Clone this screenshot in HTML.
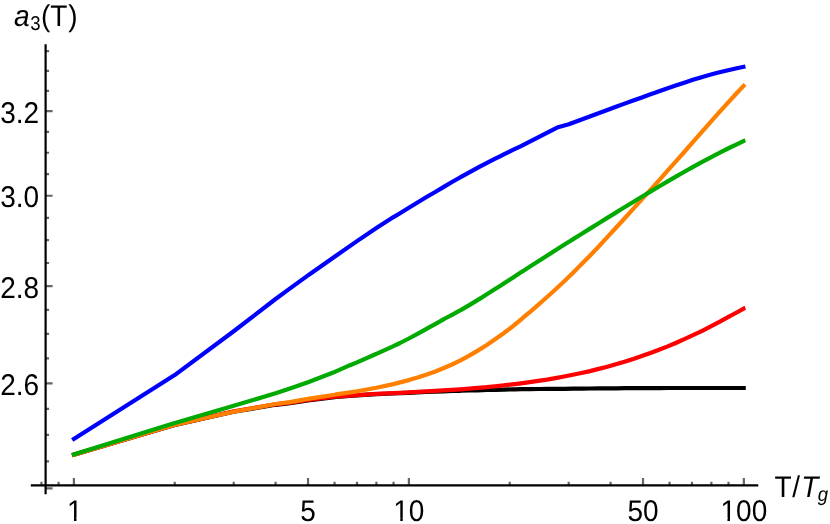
<!DOCTYPE html>
<html><head><meta charset="utf-8"><title>plot</title>
<style>
html,body{margin:0;padding:0;background:#fff;overflow:hidden}
body{width:830px;height:524px;position:relative;overflow:hidden;font-family:"Liberation Sans",sans-serif;color:#000}
.t{position:absolute;will-change:transform;text-rendering:geometricPrecision;font-size:28px;line-height:32px;white-space:nowrap;transform:scaleY(1.07);transform-origin:50% 25.7px}
.s{font-size:18.6px;position:relative}
.i,.r{position:relative}
</style></head><body>
<svg width="830" height="524" viewBox="0 0 830 524" style="position:absolute;left:0;top:0">
<path d="M41.44 485.30V481.70M58.57 485.30V481.70M174.74 485.30V481.70M233.72 485.30V481.70M275.58 485.30V481.70M334.56 485.30V481.70M356.99 485.30V481.70M376.41 485.30V481.70M393.55 485.30V481.70M509.71 485.30V481.70M568.70 485.30V481.70M610.55 485.30V481.70M669.54 485.30V481.70M691.96 485.30V481.70M711.39 485.30V481.70M728.52 485.30V481.70M73.90 485.30V478.10M308.04 485.30V478.10M408.88 485.30V478.10M643.01 485.30V478.10M743.85 485.30V478.10M45.60 461.29H49.10M45.60 434.80H49.10M45.60 408.83H49.10M45.60 383.37H52.60M45.60 358.40H49.10M45.60 333.89H49.10M45.60 309.83H49.10M45.60 286.21H52.60M45.60 263.00H49.10M45.60 240.20H49.10M45.60 217.79H49.10M45.60 195.75H52.60M45.60 174.08H49.10M45.60 152.76H49.10M45.60 131.78H49.10M45.60 111.13H52.60M45.60 90.80H49.10M45.60 70.79H49.10M45.60 51.07H49.10M45.60 488.32H52.60" stroke="#666" stroke-width="2.2" fill="none"/>
<path d="M30.8 485.30H758.3M45.60 44.2V494.3" stroke="#000" stroke-width="2.2" fill="none"/>
<polyline fill="none" stroke="#000" stroke-width="4.2" stroke-linejoin="round" points="72.0,455.3 174.7,424.9 175.0,424.9 233.7,411.7 275.6,404.8 290.0,403.1 308.0,400.3 334.6,397.1 336.0,397.0 357.0,395.4 376.4,394.2 393.5,393.5 400.0,393.2 408.9,392.8 417.5,392.4 426.2,392.0 434.8,391.6 443.4,391.3 452.1,391.0 460.0,390.8 460.7,390.7 469.3,390.5 478.0,390.3 486.6,390.0 495.3,389.8 503.9,389.6 512.5,389.4 515.0,389.3 521.2,389.2 529.8,389.1 538.5,389.0 547.1,388.9 555.7,388.9 564.4,388.8 573.0,388.7 580.0,388.6 581.7,388.6 590.3,388.5 598.9,388.4 607.6,388.4 616.2,388.3 624.9,388.2 633.5,388.1 640.0,388.1 642.1,388.1 650.8,388.1 659.4,388.1 668.0,388.0 676.7,388.0 685.3,388.0 694.0,388.0 702.6,388.0 711.2,388.0 719.9,388.0 728.5,388.0 737.2,388.0 745.0,388.0 745.8,388.0"/>
<polyline fill="none" stroke="#f00" stroke-width="4.2" stroke-linejoin="round" points="72.0,455.3 174.7,424.8 175.0,424.8 233.7,411.3 275.6,404.3 290.0,402.6 308.0,399.8 334.6,396.7 336.0,396.6 357.0,395.1 376.4,393.9 393.5,393.1 400.0,392.8 408.9,392.3 417.5,391.9 426.1,391.4 434.8,390.9 443.4,390.4 452.0,389.9 460.6,389.3 469.3,388.6 477.9,387.9 486.5,387.2 495.1,386.3 503.8,385.4 512.4,384.4 515.0,384.1 521.0,383.3 529.6,382.2 538.3,380.9 546.9,379.6 555.5,378.1 564.1,376.5 572.8,374.8 581.4,373.0 590.0,371.1 598.7,368.9 607.3,366.7 615.9,364.3 624.5,361.8 630.0,360.0 633.2,359.0 641.8,356.1 650.4,353.0 659.0,349.8 667.7,346.4 676.3,342.7 684.9,338.9 693.5,334.9 700.0,331.9 702.2,330.8 710.8,326.4 719.4,321.9 728.0,317.2 736.7,312.5 745.0,307.9 745.3,307.8"/>
<polyline fill="none" stroke="#ff8000" stroke-width="4.2" stroke-linejoin="round" points="72.0,455.3 174.7,424.7 175.0,424.7 233.7,411.8 275.6,404.0 290.0,402.1 308.0,398.9 334.6,394.7 336.0,394.4 357.0,391.3 376.4,387.8 393.5,384.1 400.0,382.4 408.9,380.1 417.5,377.6 426.1,374.8 434.7,371.7 443.3,368.2 452.0,364.5 460.0,360.6 460.6,360.3 469.2,355.6 477.8,350.6 486.4,345.2 495.1,339.3 503.7,333.2 512.3,326.7 515.0,324.5 520.9,319.6 526.0,315.2 529.5,312.3 538.2,304.9 546.8,297.3 555.4,289.5 564.0,281.5 572.6,273.2 581.2,264.6 589.9,255.8 598.5,246.7 605.0,239.6 607.1,237.4 615.7,228.0 624.3,218.7 633.0,209.2 641.6,199.7 650.2,190.2 658.8,180.6 667.4,170.9 676.1,161.2 684.7,151.5 693.3,141.7 701.9,131.8 710.5,122.1 719.1,112.4 727.8,102.9 736.4,93.5 745.0,84.4"/>
<polyline fill="none" stroke="#00aa00" stroke-width="4.2" stroke-linejoin="round" points="72.0,455.0 174.7,423.1 175.0,423.0 233.7,405.8 275.6,393.2 290.0,388.5 308.0,382.2 334.6,372.0 336.0,371.4 350.0,365.2 357.0,362.4 376.0,354.0 376.4,353.8 393.5,346.1 400.0,343.0 408.9,338.5 417.5,333.9 426.1,329.1 430.0,326.9 434.8,324.3 443.4,319.4 445.0,318.5 452.0,314.8 460.6,310.2 462.0,309.4 469.3,305.1 477.9,299.9 480.0,298.6 486.5,294.5 495.1,289.0 500.0,285.9 503.8,283.4 512.4,277.9 521.0,272.3 524.0,270.4 529.6,266.8 538.3,261.3 546.9,255.8 555.5,250.3 564.1,244.8 571.0,240.5 572.8,239.4 581.4,234.0 590.0,228.6 598.7,223.3 607.3,217.9 615.9,212.6 620.0,210.0 624.5,207.3 633.2,202.0 641.8,196.8 650.4,191.6 659.0,186.5 667.7,181.4 676.3,176.4 684.9,171.5 693.5,166.7 702.2,161.9 710.8,157.3 719.4,152.8 728.0,148.5 736.7,144.3 745.0,140.3 745.3,140.2"/>
<polyline fill="none" stroke="#00f" stroke-width="4.2" stroke-linejoin="round" points="72.2,440.0 174.7,375.1 175.0,374.9 233.7,331.3 275.6,299.0 288.0,289.9 308.0,275.4 310.0,274.0 334.6,256.7 357.0,241.1 376.4,228.0 393.5,217.1 400.0,213.2 408.9,207.7 417.5,202.5 426.1,197.3 434.8,192.2 443.4,187.1 452.0,182.0 460.0,177.5 460.6,177.1 469.3,172.3 477.9,167.6 486.5,163.1 495.2,158.7 500.0,156.3 503.8,154.4 512.4,150.2 521.0,146.1 557.1,127.6 568.8,124.3 607.3,110.0 616.0,106.8 624.6,103.6 633.2,100.5 641.9,97.4 650.5,94.3 655.0,92.8 659.1,91.3 667.7,88.2 676.4,85.3 685.0,82.4 693.6,79.6 700.0,77.7 702.3,77.0 710.9,74.6 719.5,72.3 728.1,70.2 736.8,68.2 745.0,66.5 745.4,66.4"/>
</svg>
<div class="t" style="left:-51px;top:97px;width:90px;text-align:right"><span class="i" style="left:0.10px;top:0.68px">3.2</span></div>
<div class="t" style="left:-51px;top:182px;width:90px;text-align:right"><span class="i" style="left:0.10px;top:0.30px">3.0</span></div>
<div class="t" style="left:-51px;top:272px;width:90px;text-align:right"><span class="i" style="left:0.10px;top:0.76px">2.8</span></div>
<div class="t" style="left:-51px;top:369px;width:90px;text-align:right"><span class="i" style="left:0.10px;top:0.92px">2.6</span></div>
<div class="t" style="left:29px;top:495px;width:90px;text-align:center"><span class="i" style="left:0.80px;top:0.80px">1</span></div>
<div class="t" style="left:263px;top:495px;width:90px;text-align:center"><span class="i" style="left:0.04px;top:0.80px">5</span></div>
<div class="t" style="left:363px;top:495px;width:90px;text-align:center"><span class="i" style="left:0.88px;top:0.80px">10</span></div>
<div class="t" style="left:598px;top:495px;width:90px;text-align:center"><span class="i" style="left:0.01px;top:0.80px">50</span></div>
<div class="t" style="left:698px;top:495px;width:90px;text-align:center"><span class="i" style="left:0.85px;top:0.80px">100</span></div>
<div class="t" style="left:14px;top:1px;width:90px;text-align:left"><span class="i" style="left:0.10px;top:0.00px"><i>a</i><span class="s" style="top:3.6px;left:0.6px">3</span><span class="r" style="left:1.0px">(T<span class="r" style="left:0.8px">)</span></span></span></div>
<div class="t" style="left:774px;top:472px;width:56px;text-align:left"><span class="i" style="left:0.10px;top:0.00px"><span class="r" style="left:0.4px">T</span><span class="r" style="left:1.0px">/</span><i class="r" style="left:2.2px">T</i><span class="s" style="top:3.7px;left:1.6px"><i>g</i></span></span></div>
<svg width="830" height="524" style="position:absolute;left:0;top:0" fill="#fff"><rect x="68.01" y="517.6" width="5.97" height="4.4"/><rect x="76.48" y="517.6" width="5.90" height="4.4"/><rect x="394.30" y="517.6" width="5.97" height="4.4"/><rect x="402.77" y="517.6" width="5.90" height="4.4"/><rect x="721.49" y="517.6" width="5.97" height="4.4"/><rect x="729.96" y="517.6" width="5.90" height="4.4"/></svg>
</body></html>
